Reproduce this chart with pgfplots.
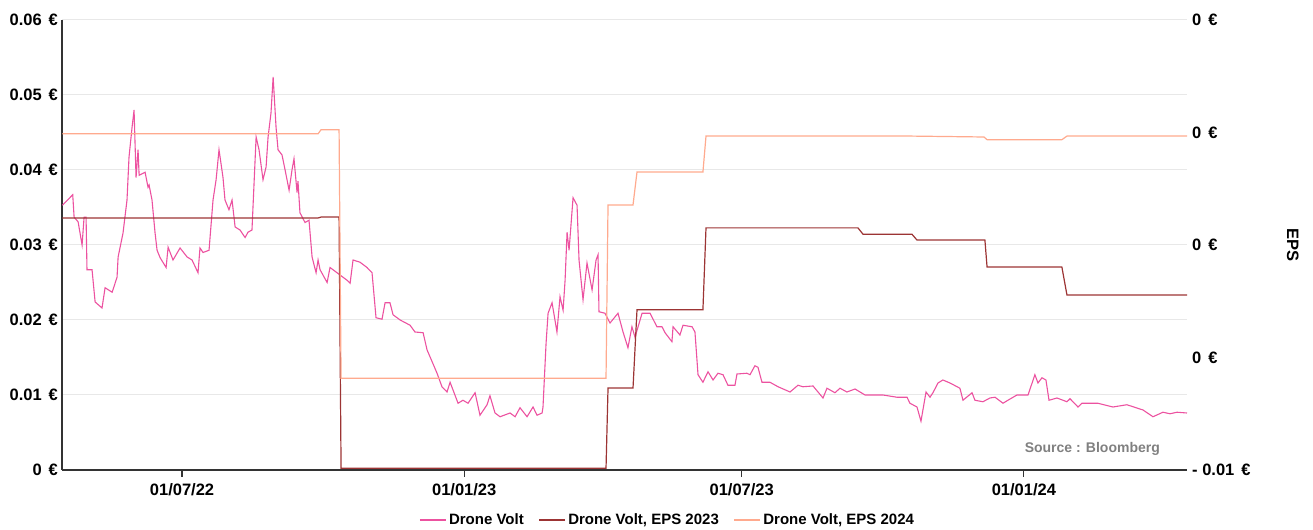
\documentclass[border=0pt]{standalone}
\usepackage{fontspec}
\setmainfont{Liberation Sans}
\usepackage{pgfplots}
\pgfplotsset{compat=1.18}

\definecolor{dvpink}{RGB}{236,82,160}
\definecolor{eps23}{RGB}{156,52,52}
\definecolor{eps24}{RGB}{255,170,142}
\definecolor{gridgray}{RGB}{232,232,232}
\definecolor{axgray}{RGB}{51,51,51}

\newcommand{\eur}{\hspace{0.42em}€}

% x = days since 01/07/22
\pgfplotstableread{
d      p
-78.0  0.0353
-71.3  0.0367
-70.4  0.0337
-67.8  0.0331
-65.2  0.0300
-63.9  0.0337
-62.6  0.0337
-62.0  0.0267
-58.7  0.0267
-56.7  0.0224
-52.2  0.0216
-50.2  0.0243
-45.6  0.0237
-42.4  0.0257
-41.7  0.0284
-38.5  0.0316
-35.9  0.0360
-34.6  0.0417
-32.6  0.0457
-31.3  0.0480
-30.0  0.0390
-28.7  0.0427
-28.0  0.0393
-24.1  0.0397
-22.2  0.0377
-21.5  0.0380
-19.6  0.0360
-17.6  0.0316
-16.3  0.0293
-14.3  0.0283
-10.4  0.0270
-9.1   0.0297
-5.9   0.0280
-1.3   0.0296
3.3    0.0284
6.5    0.0280
10.4   0.0263
11.7   0.0296
13.7   0.0290
17.6   0.0293
20.2   0.0360
22.2   0.0387
24.1   0.0427
26.7   0.0390
28.0   0.0360
30.6   0.0347
32.6   0.0360
34.6   0.0324
37.8   0.0320
41.1   0.0310
43.0   0.0317
45.6   0.0320
48.3   0.0444
50.2   0.0427
52.8   0.0387
54.8   0.0404
56.1   0.0444
58.0   0.0476
59.4   0.0524
61.3   0.0457
62.6   0.0427
65.2   0.0420
67.2   0.0400
69.8   0.0373
71.7   0.0400
73.0   0.0415
75.0   0.0370
75.6   0.0385
76.9   0.0343
80.2   0.0330
82.8   0.0333
84.8   0.0284
87.4   0.0263
88.7   0.0280
90.0   0.0267
94.6   0.0250
96.5   0.0270
103.0  0.0260
107.6  0.0253
109.6  0.0249
111.5  0.0280
116.1  0.0277
120.6  0.0270
123.9  0.0263
126.5  0.0203
130.4  0.0201
132.4  0.0223
135.6  0.0223
137.6  0.0207
142.2  0.0200
148.7  0.0193
151.9  0.0184
157.2  0.0183
159.8  0.0160
161.7  0.0151
166.3  0.0129
169.5  0.0111
172.8  0.0104
174.8  0.0117
180.0  0.0089
183.2  0.0093
186.5  0.0089
191.1  0.0103
194.3  0.0073
198.9  0.0087
200.8  0.0099
204.1  0.0076
207.4  0.0071
213.9  0.0076
217.2  0.0071
220.4  0.0083
225.0  0.0071
228.9  0.0084
231.5  0.0073
234.8  0.0076
235.4  0.0084
237.4  0.0169
238.7  0.0209
241.3  0.0223
244.5  0.0184
246.5  0.0231
248.5  0.0213
249.8  0.0253
251.1  0.0317
252.4  0.0293
255.0  0.0363
257.6  0.0353
258.9  0.0280
261.5  0.0227
264.1  0.0276
267.4  0.0240
270.0  0.0280
271.3  0.0287
271.9  0.0211
275.8  0.0209
279.1  0.0196
284.3  0.0209
287.6  0.0184
290.8  0.0163
293.4  0.0191
295.4  0.0177
300.0  0.0209
305.2  0.0209
309.7  0.0191
313.0  0.0191
315.0  0.0183
319.5  0.0171
320.2  0.0191
324.7  0.0180
326.7  0.0193
332.6  0.0191
334.5  0.0184
336.5  0.0127
339.7  0.0117
343.0  0.0131
346.3  0.0120
349.5  0.0129
352.8  0.0127
356.0  0.0113
360.6  0.0113
361.9  0.0128
368.4  0.0129
370.4  0.0127
373.6  0.0139
375.6  0.0137
378.2  0.0117
383.4  0.0117
388.7  0.0111
396.5  0.0104
401.7  0.0113
404.9  0.0111
411.5  0.0112
418.0  0.0096
420.6  0.0109
425.8  0.0103
429.1  0.0109
433.6  0.0104
438.9  0.0108
445.4  0.0100
450.6  0.0100
457.1  0.0100
466.3  0.0097
472.8  0.0097
474.7  0.0089
479.3  0.0084
481.9  0.0065
485.2  0.0104
487.8  0.0097
489.7  0.0103
493.0  0.0116
496.2  0.0120
500.8  0.0116
507.3  0.0109
509.3  0.0093
515.2  0.0103
517.1  0.0093
522.3  0.0091
526.9  0.0096
530.2  0.0097
535.4  0.0089
538.6  0.0093
544.5  0.0100
551.7  0.0100
556.2  0.0127
558.2  0.0116
560.8  0.0123
563.4  0.0120
565.4  0.0093
570.6  0.0096
577.1  0.0091
579.1  0.0095
584.3  0.0084
586.9  0.0089
592.1  0.0089
597.3  0.0089
607.1  0.0084
616.2  0.0087
626.7  0.0080
633.2  0.0071
639.7  0.0077
644.3  0.0075
648.9  0.0077
655.4  0.0076
}\price

\pgfplotstableread{
d      e
-78.0  -0.00440
88.7   -0.00440
90.6   -0.00438
102.4  -0.00438
103.7  -0.00996
276.5  -0.00996
277.8  -0.00818
294.1  -0.00818
296.7  -0.00644
339.7  -0.00644
341.7  -0.00462
440.8  -0.00462
444.1  -0.00476
476.0  -0.00476
479.3  -0.00489
523.6  -0.00489
525.0  -0.00549
573.8  -0.00549
577.1  -0.00611
655.4  -0.00611
}\epsA

\pgfplotstableread{
d      e
-78.0  -0.00253
88.7   -0.00253
90.6   -0.00244
102.4  -0.00244
103.7  -0.00796
276.5  -0.00796
277.8  -0.00411
294.1  -0.00411
296.7  -0.00338
339.7  -0.00338
341.7  -0.00258
476.0  -0.00258
523.0  -0.00260
525.0  -0.00266
573.8  -0.00266
577.1  -0.00258
655.4  -0.00258
}\epsB

\begin{document}
\begin{tikzpicture}[font=\fontsize{16.5}{19}\selectfont\bfseries]
\begin{axis}[
  scale only axis, width=1125pt, height=450pt,
  xmin=-78.3, xmax=655.4, ymin=0, ymax=0.06,
  axis x line*=bottom, axis y line*=left,
  axis line style={axgray, line width=1.5pt},
  scaled y ticks=false,
  ytick={0,0.01,0.02,0.03,0.04,0.05,0.06},
  yticklabels={0\eur,0.01\eur,0.02\eur,0.03\eur,0.04\eur,0.05\eur,0.06\eur},
  ytick style={draw=none},
  yticklabel style={inner sep=0pt, xshift=3pt},
  ymajorgrids, grid style={gridgray, line width=1pt},
  xtick={0,184,365,549},
  xticklabels={01/07/22,01/01/23,01/07/23,01/01/24},
  xtick style={axgray, line width=1.2pt},
  tick align=outside, major tick length=7pt,
  xticklabel style={inner sep=0pt, yshift=-6pt},
  legend columns=3,
  legend style={at={(0.538,-0.088)}, anchor=north, draw=none, fill=none,
    font=\fontsize{15}{18}\selectfont\bfseries,
    /tikz/every even column/.append style={column sep=12pt}},
  legend image code/.code={\draw[#1, line width=2.5pt] (0pt,0pt) -- (26pt,0pt);},
]
\addplot[dvpink, line width=1.1pt] table[x=d, y=p] {\price};
\addlegendentry{Drone Volt}
\addlegendimage{eps23}
\addlegendentry{Drone Volt, EPS 2023}
\addlegendimage{eps24}
\addlegendentry{Drone Volt, EPS 2024}
\node[anchor=east, text=gray, font=\fontsize{14}{17}\selectfont\bfseries]
  at (rel axis cs:0.979,0.047) {Source : Bloomberg};
\coordinate (bl) at (rel axis cs:0,0);
\coordinate (tr) at (rel axis cs:1,1);
\end{axis}
\begin{axis}[
  scale only axis, width=1125pt, height=450pt,
  xmin=-78.3, xmax=655.4, ymin=-0.01, ymax=0,
  axis x line=none, axis y line*=right,
  y axis line style={draw=none},
  scaled y ticks=false,
  ytick={-0.01,-0.0075,-0.005,-0.0025,0},
  yticklabels={- 0.01\eur,0\eur,0\eur,0\eur,0\eur},
  ytick style={draw=none},
  yticklabel style={inner sep=0pt, xshift=5pt},
  ylabel={EPS},
  ylabel style={rotate=180, at={(axis description cs:1.094,0.5)}, anchor=center},
]
\addplot[eps23, line width=1.2pt] table[x=d, y=e] {\epsA};
\addplot[eps24, line width=1.2pt] table[x=d, y=e] {\epsB};
\end{axis}
\pgfresetboundingbox
\path[use as bounding box] ([xshift=-62pt,yshift=-60pt]bl) rectangle ([xshift=126pt,yshift=20pt]tr);
\end{tikzpicture}
\end{document}
